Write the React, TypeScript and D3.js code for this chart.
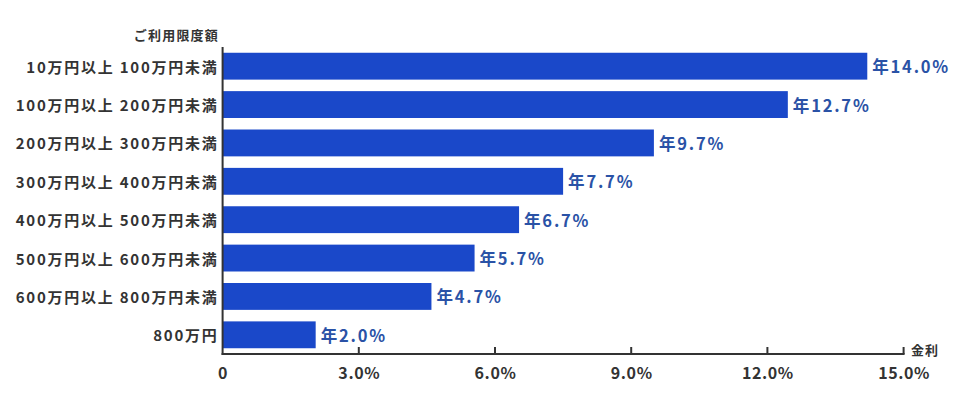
import React from "react";
import * as d3 from "d3";

const categories = [
  "10万円以上 100万円未満",
  "100万円以上 200万円未満",
  "200万円以上 300万円未満",
  "300万円以上 400万円未満",
  "400万円以上 500万円未満",
  "500万円以上 600万円未満",
  "600万円以上 800万円未満",
  "800万円",
];
const barValues = [14.2, 12.45, 9.5, 7.5, 6.53, 5.55, 4.6, 2.05];
const valueLabels = ["年14.0%", "年12.7%", "年9.7%", "年7.7%", "年6.7%", "年5.7%", "年4.7%", "年2.0%"];
const tickValues = [0, 3, 6, 9, 12, 15];
const tickLabels = ["0", "3.0%", "6.0%", "9.0%", "12.0%", "15.0%"];
const yTitle = "ご利用限度額";
const xTitle = "金利";

const W = 966;
const H = 400;
const FONT = "'Noto Sans CJK JP', 'Noto Sans', sans-serif";

export default function App() {
  const x = d3.scaleLinear().domain([0, 15]).range([222.6, 903.6]);
  const y = d3
    .scaleBand<string>()
    .domain(categories)
    .range([47, 354])
    .paddingInner(0.3)
    .paddingOuter(0.15);
  const axisColor = "#333333";
  const top = 47;
  const baseY = 354;

  return (
    <svg
      width={W}
      height={H}
      style={{ position: "absolute", left: 0, top: 0, background: "#fff" }}
      fontFamily={FONT}
    >
      <text
        x={219}
        y={34}
        textAnchor="end"
        dominantBaseline="central"
        fontSize={13}
        fontWeight={700}
        fill={axisColor}
        letterSpacing={1.2}
      >
        {yTitle}
      </text>
      {categories.map((c, i) => {
        const by = y(c)!;
        const bh = y.bandwidth();
        return (
          <g key={c}>
            <rect x={x(0)} y={by} width={x(barValues[i]) - x(0)} height={bh} fill="#1a48c9" />
            <text
              x={218.5}
              y={by + bh / 2}
              textAnchor="end"
              dominantBaseline="central"
              fontSize={15}
              fontWeight={700}
              fill={axisColor}
              letterSpacing={1.75}
            >
              {c}
            </text>
            <text
              x={x(barValues[i]) + 5}
              y={by + bh / 2}
              dominantBaseline="central"
              fontSize={16.5}
              fontWeight={700}
              fill="#2a52a6"
              letterSpacing={1.8}
            >
              {valueLabels[i]}
            </text>
          </g>
        );
      })}
      <line x1={x(0)} x2={x(0)} y1={top} y2={baseY + 1} stroke={axisColor} strokeWidth={2} />
      <line x1={x(0) - 1} x2={x(15) + 1} y1={baseY} y2={baseY} stroke={axisColor} strokeWidth={2} />
      {tickValues.map((t, i) => (
        <g key={t}>
          {t > 0 && (
            <line x1={x(t)} x2={x(t)} y1={baseY - 7} y2={baseY} stroke={axisColor} strokeWidth={2} />
          )}
          <text
            x={x(t) + 0.5}
            y={372}
            textAnchor="middle"
            dominantBaseline="central"
            fontSize={16}
            fontWeight={700}
            fill={axisColor}
            letterSpacing={0.6}
          >
            {tickLabels[i]}
          </text>
        </g>
      ))}
      <text
        x={911}
        y={349.5}
        dominantBaseline="central"
        fontSize={13}
        fontWeight={700}
        fill={axisColor}
        letterSpacing={1}
      >
        {xTitle}
      </text>
    </svg>
  );
}
